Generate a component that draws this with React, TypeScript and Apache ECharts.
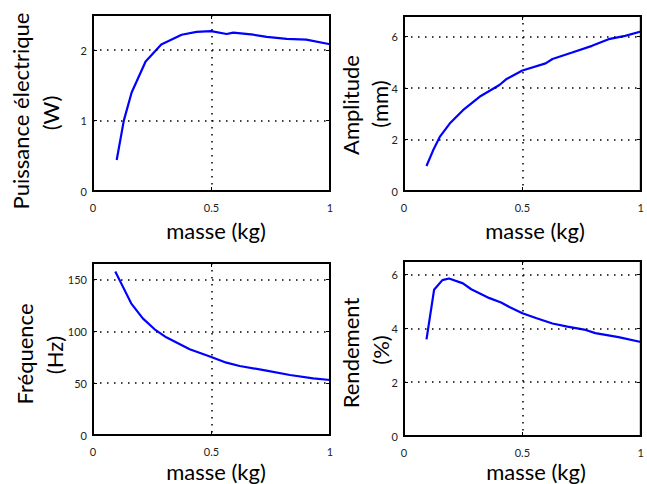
import React, { useEffect, useRef } from "react";
import * as echarts from "echarts";

// Puissance électrique (W) vs masse (kg)
const powerMass = [0.1, 0.13, 0.163, 0.222, 0.288, 0.374, 0.437, 0.498, 0.564, 0.592, 0.677, 0.733, 0.817, 0.9, 1.0];
const powerW = [0.44, 1.0, 1.4, 1.84, 2.08, 2.22, 2.26, 2.27, 2.23, 2.25, 2.22, 2.19, 2.16, 2.15, 2.085];

// Amplitude (mm)
const ampMass = [0.095, 0.123, 0.151, 0.193, 0.249, 0.319, 0.403, 0.431, 0.5, 0.598, 0.627, 0.71, 0.794, 0.864, 0.934, 1.0];
const ampMm = [0.97, 1.58, 2.1, 2.62, 3.14, 3.66, 4.12, 4.34, 4.68, 4.96, 5.13, 5.38, 5.64, 5.9, 6.03, 6.2];

// Fréquence (Hz)
const freqMass = [0.094, 0.126, 0.161, 0.21, 0.26, 0.309, 0.408, 0.496, 0.563, 0.619, 0.732, 0.831, 0.929, 1.0];
const freqHz = [157.7, 143.2, 127.1, 112.6, 102.0, 94.3, 82.7, 75.6, 69.8, 66.6, 62.1, 57.9, 54.7, 53.1];

// Rendement (%)
const effMass = [0.095, 0.127, 0.162, 0.19, 0.249, 0.284, 0.361, 0.41, 0.445, 0.5, 0.557, 0.627, 0.69, 0.767, 0.808, 0.906, 1.0];
const effPct = [3.59, 5.43, 5.79, 5.85, 5.67, 5.45, 5.12, 4.96, 4.79, 4.56, 4.38, 4.18, 4.06, 3.94, 3.82, 3.67, 3.49];

const xTitle = "masse (kg)";
const yTitles = [
  ["Puissance électrique", "(W)"],
  ["Amplitude", "(mm)"],
  ["Fréquence", "(Hz)"],
  ["Rendement", "(%)"],
];
const yMax = [2.5, 6.8, 166, 6.5];
const yInterval = [1, 2, 50, 2];

const FONT = "Lato, 'Open Sans', sans-serif";

export default function App() {
  const ref = useRef<HTMLDivElement>(null);
  useEffect(() => {
    if (!ref.current) return;
    const chart = echarts.init(ref.current, null, { renderer: "svg" });

    const grids = [
      { left: 93, top: 15, width: 237, height: 176 },
      { left: 404, top: 16, width: 238, height: 175 },
      { left: 93, top: 263, width: 237, height: 172 },
      { left: 404, top: 261, width: 238, height: 175 },
    ];
    const seriesData = [
      powerMass.map((m, i) => [m, powerW[i]]),
      ampMass.map((m, i) => [m, ampMm[i]]),
      freqMass.map((m, i) => [m, freqHz[i]]),
      effMass.map((m, i) => [m, effPct[i]]),
    ];

    const axisLine = { show: true, onZero: false, lineStyle: { color: "#000", width: 2 } };
    const axisTick = { show: true, inside: true, length: 4, lineStyle: { color: "#000", width: 1 } };
    const dotted = { show: true, lineStyle: { color: "#000", width: 1.5, type: [1.5, 5.5] } };
    const labelStyle = { fontFamily: FONT, fontSize: 11, color: "#222" };

    const xAxis: any[] = [];
    const yAxis: any[] = [];
    grids.forEach((_, g) => {
      xAxis.push({
        type: "value", gridIndex: g, min: 0, max: 1, interval: 0.5, position: "bottom",
        axisLine, axisTick, splitLine: dotted, z: 5,
        axisLabel: { ...labelStyle, margin: 11, formatter: (v: number) => String(v) },
      });
      xAxis.push({
        type: "value", gridIndex: g, min: 0, max: 1, interval: 0.5, position: "top",
        axisLine, axisTick, splitLine: { show: false }, axisLabel: { show: false }, z: 5,
      });
      yAxis.push({
        type: "value", gridIndex: g, min: 0, max: yMax[g], interval: yInterval[g], position: "left",
        axisLine, axisTick, splitLine: dotted, z: 5,
        axisLabel: { ...labelStyle, margin: 6, showMaxLabel: false },
      });
      yAxis.push({
        type: "value", gridIndex: g, min: 0, max: yMax[g], interval: yInterval[g], position: "right",
        axisLine, axisTick, splitLine: { show: false }, axisLabel: { show: false }, z: 5,
      });
    });

    const series = seriesData.map((d, g) => ({
      type: "line",
      xAxisIndex: g * 2,
      yAxisIndex: g * 2,
      data: d,
      showSymbol: false,
      symbol: "none",
      lineStyle: { color: "#0000ff", width: 2.2 },
      z: 3,
    }));

    const titleStyle = { fontFamily: FONT, fontSize: 22, fill: "#000", align: "center", verticalAlign: "middle" };
    const xTitlePos = [[216, 230], [535, 230], [216, 471], [536, 471]];
    const yTitlePos = [
      [[20, 111], [50, 113]],
      [[350, 105], [379, 104]],
      [[24, 354], [54, 355]],
      [[350, 353], [380, 350]],
    ];
    const graphic: any[] = [];
    xTitlePos.forEach(([x, y]) => {
      graphic.push({ type: "text", x, y, style: { ...titleStyle, text: xTitle } });
    });
    yTitlePos.forEach((pair, g) => {
      pair.forEach(([x, y], k) => {
        graphic.push({ type: "text", x, y, rotation: Math.PI / 2, style: { ...titleStyle, text: yTitles[g][k] } });
      });
    });

    chart.setOption({
      animation: false,
      backgroundColor: "#fff",
      grid: grids.map((g) => ({ ...g, containLabel: false, show: true, borderColor: "#000", borderWidth: 2, backgroundColor: "transparent" })),
      xAxis,
      yAxis,
      series,
      graphic,
    });
    return () => chart.dispose();
  }, []);
  return (
    <div
      ref={ref}
      style={{ position: "fixed", left: 0, top: 0, width: 647, height: 484 }}
    />
  );
}
